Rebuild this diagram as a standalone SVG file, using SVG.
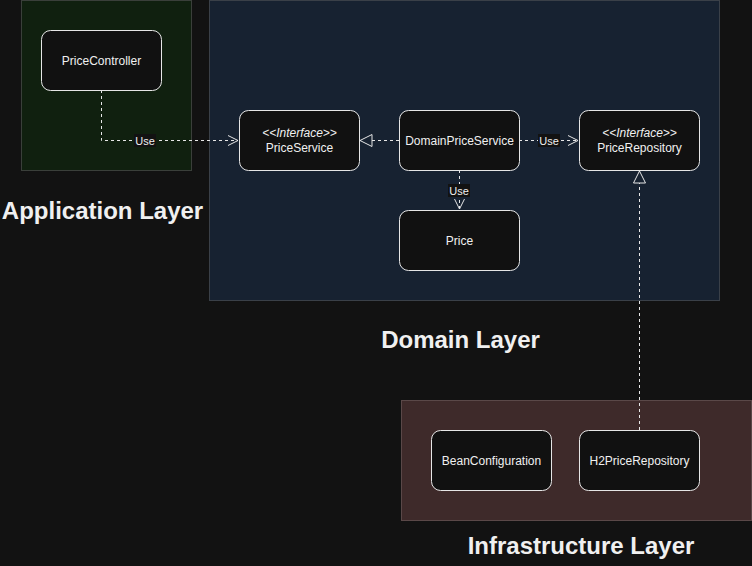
<svg xmlns="http://www.w3.org/2000/svg" width="752" height="566" viewBox="0 0 752 566">
<defs>
<style>
.node rect{fill:#111111;stroke:#e6e6e6;stroke-width:1}
.nt{font-family:"Liberation Sans",Arial,sans-serif;font-size:12px;fill:#f0f0f0;text-anchor:middle}
.it{font-style:italic}
.layer-title{font-family:"Liberation Sans",Arial,sans-serif;font-size:24px;font-weight:bold;fill:#f0f0f0;text-anchor:middle}
.edge{fill:none;stroke:#e6e6e6;stroke-width:1;stroke-dasharray:3 3}
.el{font-family:"Liberation Sans",Arial,sans-serif;font-size:11px;fill:#f0f0f0;text-anchor:middle}
.lbg{fill:#121212}
</style>
<marker id="open" viewBox="0 0 12 12" refX="11" refY="6" markerWidth="12" markerHeight="12" markerUnits="userSpaceOnUse" orient="auto">
<path d="M1,1 L11,6 L1,11" fill="none" stroke="#e6e6e6" stroke-width="1"/>
</marker>
<marker id="tri" viewBox="0 0 14 14" refX="13" refY="7" markerWidth="14" markerHeight="14" markerUnits="userSpaceOnUse" orient="auto">
<path d="M1,1 L13,7 L1,13 Z" fill="#172231" stroke="#e6e6e6" stroke-width="1"/>
</marker>
</defs>
<rect width="752" height="566" fill="#121212"/>
<g id="layers">
<rect id="application-layer" x="21.5" y="0.5" width="170" height="170" fill="#10200f" stroke="#3a3f3a"/>
<rect id="domain-layer" x="209.5" y="0.5" width="510" height="300" fill="#172231" stroke="#3a4048"/>
<rect id="infrastructure-layer" x="401.5" y="400.5" width="350" height="120" fill="#3e2a2a" stroke="#5a4848"/>
<text class="layer-title" x="102.5" y="218.5">Application Layer</text>
<text class="layer-title" x="460.5" y="348">Domain Layer</text>
<text class="layer-title" x="581" y="553.5">Infrastructure Layer</text>
</g>
<g id="connectors">
<path class="edge" d="M101.5,90 L101.5,140.5 L238,140.5" marker-end="url(#open)"/>
<rect class="lbg" x="134" y="134" width="22" height="13"/>
<text class="el" x="145" y="145">Use</text>
<path class="edge" d="M399,140.5 L360,140.5" marker-end="url(#tri)"/>
<path class="edge" d="M519,140.5 L578,140.5" marker-end="url(#open)"/>
<rect class="lbg" x="538" y="134" width="22" height="13"/>
<text class="el" x="549" y="145">Use</text>
<path class="edge" d="M459.5,170 L459.5,209" marker-end="url(#open)"/>
<rect class="lbg" x="448" y="184" width="22" height="13"/>
<text class="el" x="459" y="195">Use</text>
<path class="edge" d="M639.5,430 L639.5,171" marker-end="url(#tri)"/>
</g>
<g id="PriceController" class="node"><rect x="41.5" y="30.5" width="120" height="60" rx="9"/><text class="nt" x="101.5" y="65">PriceController</text></g>
<g id="PriceService" class="node"><rect x="239.5" y="110.5" width="120" height="60" rx="9"/><text class="nt it" x="299.5" y="137">&lt;&lt;Interface&gt;&gt;</text><text class="nt" x="299.5" y="152">PriceService</text></g>
<g id="DomainPriceService" class="node"><rect x="399.5" y="110.5" width="120" height="60" rx="9"/><text class="nt" x="459.5" y="145">DomainPriceService</text></g>
<g id="PriceRepository" class="node"><rect x="579.5" y="110.5" width="120" height="60" rx="9"/><text class="nt it" x="639.5" y="137">&lt;&lt;Interface&gt;&gt;</text><text class="nt" x="639.5" y="152">PriceRepository</text></g>
<g id="Price" class="node"><rect x="399.5" y="210.5" width="120" height="60" rx="9"/><text class="nt" x="459.5" y="245">Price</text></g>
<g id="BeanConfiguration" class="node"><rect x="431.5" y="430.5" width="120" height="60" rx="9"/><text class="nt" x="491.5" y="465">BeanConfiguration</text></g>
<g id="H2PriceRepository" class="node"><rect x="579.5" y="430.5" width="120" height="60" rx="9"/><text class="nt" x="639.5" y="465">H2PriceRepository</text></g>
</svg>
